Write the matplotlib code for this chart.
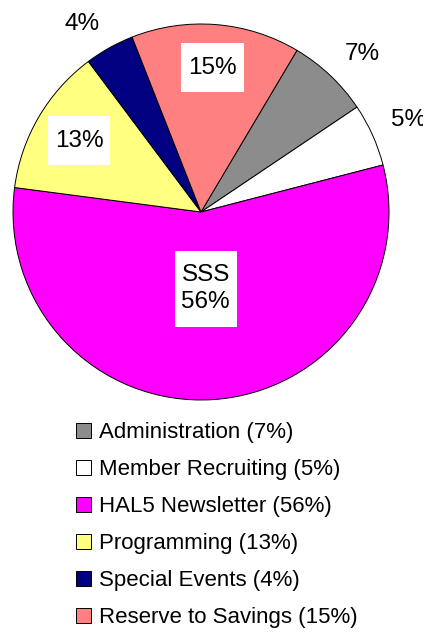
import matplotlib.pyplot as plt
from matplotlib.path import Path
import numpy as np

plt.rcParams['font.family'] = ['Liberation Sans', 'DejaVu Sans']

# Slice values (percent), in drawing order (clockwise)
categories = ['Administration', 'Member Recruiting', 'HAL5 Newsletter',
              'Programming', 'Special Events', 'Reserve to Savings']
values = [7.05, 5.4, 56.1, 12.7, 4.25, 14.5]
pie_labels = ['7%', '5%', 'SSS\n56%', '13%', '4%', '15%']
legend_labels = ['Administration (7%)', 'Member Recruiting (5%)', 'HAL5 Newsletter (56%)',
                 'Programming (13%)', 'Special Events (4%)', 'Reserve to Savings (15%)']
colors = ['#8c8c8c', '#ffffff', '#ff00ff', '#ffff80', '#000080', '#ff8080']
# inside labels get a white box at this fraction of radius, None = outside label
label_dist = [None, None, 0.41, 0.75, None, 0.77]
OUTSIDE_R = 1.11


def white_box(x0, y0, width, height, mutation_size):
    # box wider in y than in x, like the Excel label boxes
    px, py = 0.28 * mutation_size, 0.55 * mutation_size
    x0, y0 = x0 - px, y0 - py
    x1, y1 = x0 + width + 2 * px, y0 + height + 2 * py
    return Path([(x0, y0), (x1, y0), (x1, y1), (x0, y1), (x0, y0)], closed=True)


W, H = 423, 633
fig = plt.figure(figsize=(W / 100, H / 100), dpi=100)

# pie centre (201,212) px, radius 188 px
cx, cy, r = 201, 212, 188
ax = fig.add_axes([(cx - r) / W, 1 - (cy + r) / H, 2 * r / W, 2 * r / H])

wedges, _ = ax.pie(values, colors=colors, startangle=59.3, counterclock=False,
                   wedgeprops=dict(edgecolor='black', linewidth=0.7))
ax.set_xlim(-1, 1)
ax.set_ylim(-1, 1)
ax.set_aspect('equal')
ax.axis('off')

for w, lab, d in zip(wedges, pie_labels, label_dist):
    mid = np.deg2rad((w.theta1 + w.theta2) / 2)
    c, s = np.cos(mid), np.sin(mid)
    if d is None:
        ax.text(OUTSIDE_R * c, OUTSIDE_R * s, lab, fontsize=17.5,
                ha='left' if c > 0 else 'right',
                va='baseline' if s > 0 else 'top', clip_on=False)
    else:
        ax.text(d * c, d * s, lab, ha='center', va='center', fontsize=17.5,
                linespacing=1.3, clip_on=False,
                bbox=dict(facecolor='white', edgecolor='none', boxstyle=white_box))

fig.legend(wedges, legend_labels, loc='upper left',
           bbox_to_anchor=(76 / W, 1 - 422 / H), frameon=False, fontsize=16,
           handlelength=0.68, handleheight=0.68, handletextpad=0.35,
           labelspacing=0.72, borderpad=0, borderaxespad=0)

fig.savefig('out.png', dpi=100)
